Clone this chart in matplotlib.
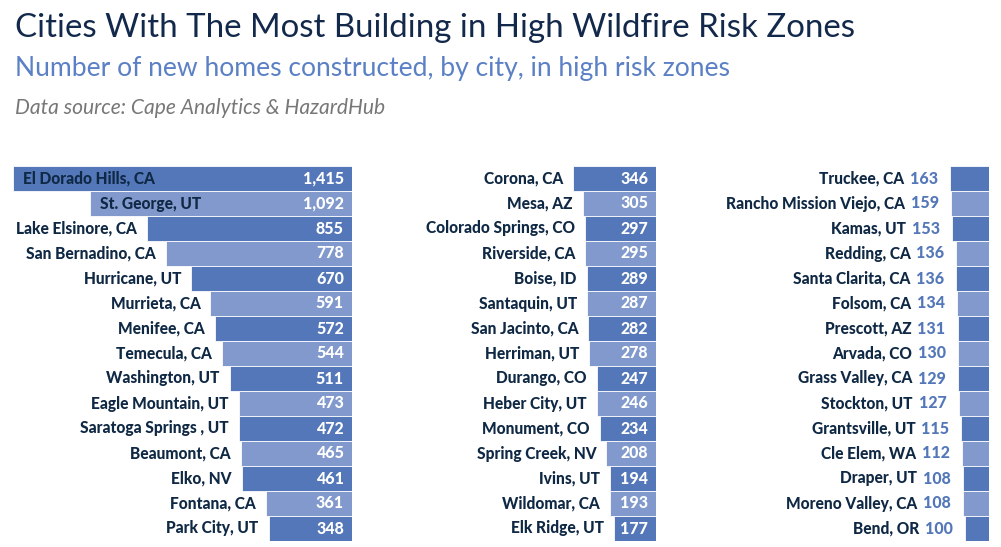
import matplotlib
matplotlib.use('Agg')
import matplotlib.pyplot as plt

W, H = 1001, 547

col1_cities = ['El Dorado Hills, CA', 'St. George, UT', 'Lake Elsinore, CA', 'San Bernadino, CA',
               'Hurricane, UT', 'Murrieta, CA', 'Menifee, CA', 'Temecula, CA', 'Washington, UT',
               'Eagle Mountain, UT', 'Saratoga Springs , UT', 'Beaumont, CA', 'Elko, NV',
               'Fontana, CA', 'Park City, UT']
col1_values = [1415, 1092, 855, 778, 670, 591, 572, 544, 511, 473, 472, 465, 461, 361, 348]

col2_cities = ['Corona, CA', 'Mesa, AZ', 'Colorado Springs, CO', 'Riverside, CA', 'Boise, ID',
               'Santaquin, UT', 'San Jacinto, CA', 'Herriman, UT', 'Durango, CO', 'Heber City, UT',
               'Monument, CO', 'Spring Creek, NV', 'Ivins, UT', 'Wildomar, CA', 'Elk Ridge, UT']
col2_values = [346, 305, 297, 295, 289, 287, 282, 278, 247, 246, 234, 208, 194, 193, 177]

col3_cities = ['Truckee, CA', 'Rancho Mission Viejo, CA', 'Kamas, UT', 'Redding, CA',
               'Santa Clarita, CA', 'Folsom, CA', 'Prescott, AZ', 'Arvada, CO', 'Grass Valley, CA',
               'Stockton, UT', 'Grantsville, UT', 'Cle Elem, WA', 'Draper, UT',
               'Moreno Valley, CA', 'Bend, OR']
col3_values = [163, 159, 153, 136, 136, 134, 131, 130, 129, 127, 115, 112, 108, 108, 100]

DARK = '#5377b8'
LIGHT = '#8199cc'
NAVY = '#0f2844'
PX_PER_UNIT = 339 / 1415.0

plt.rcParams['font.family'] = ['Lato', 'DejaVu Sans']

# dpi 72 so that one point is one pixel
fig = plt.figure(figsize=(W / 72, H / 72), dpi=72)

fig.text(15 / W, 1 - 37 / H, 'Cities With The Most Building in High Wildfire Risk Zones',
         fontsize=33, fontweight='normal', color='#13294b', va='baseline')
fig.text(15 / W, 1 - 76 / H, 'Number of new homes constructed, by city, in high risk zones',
         fontsize=26.5, fontweight='normal', color='#5b80c5', va='baseline')
fig.text(15 / W, 1 - 114 / H, 'Data source: Cape Analytics & HazardHub',
         fontsize=21, style='italic', color='#777777', va='baseline')


def column(left_px, right_px, cities, values, inside_values):
	top, bottom = 166, 541
	ax = fig.add_axes([left_px / W, (H - bottom) / H, (right_px - left_px) / W, (bottom - top) / H])
	n = len(values)
	ys = list(range(n))
	colors = [DARK if i % 2 == 0 else LIGHT for i in ys]
	ax.barh(ys, values, height=1.0, color=colors, edgecolor='white', linewidth=0.8)
	ax.set_xlim((right_px - left_px) / PX_PER_UNIT, 0)
	ax.set_ylim(n - 0.5, -0.5)
	ax.axis('off')
	lab = dict(va='center', color=NAVY, fontsize=15.5, fontweight='black')
	for y, city, v in zip(ys, cities, values):
		if inside_values:
			ax.annotate(f'{v:,}', (0, y), xytext=(-8, 0), textcoords='offset points',
			            ha='right', va='center', color='white', fontsize=16, fontweight='black')
			if v > 1000:
				ax.annotate(city, (v, y), xytext=(10, 0), textcoords='offset points', ha='left', **lab)
			else:
				ax.annotate(city, (v, y), xytext=(-10, 0), textcoords='offset points', ha='right', **lab)
		else:
			ax.annotate(f'{v:,}', (v, y), xytext=(-12, 0), textcoords='offset points',
			            ha='right', va='center', color='#5377b8', fontsize=16, fontweight='black')
			ax.annotate(city, (v, y), xytext=(-46, 0), textcoords='offset points', ha='right', **lab)


column(0, 352, col1_cities, col1_values, True)
column(380, 656, col2_cities, col2_values, True)
column(700, 989, col3_cities, col3_values, False)

fig.savefig('out.png', dpi=72)
